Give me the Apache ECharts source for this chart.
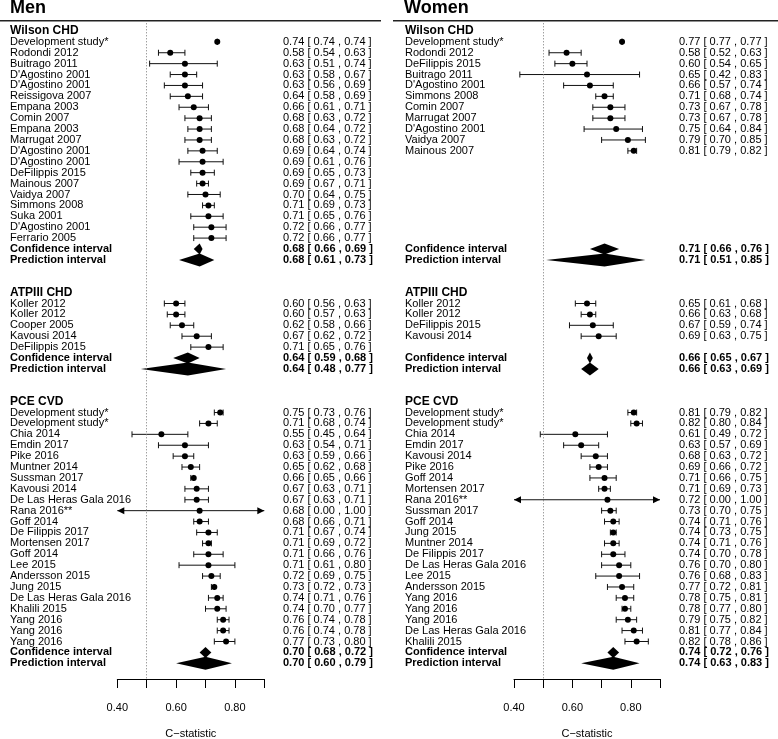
<!DOCTYPE html>
<html><head><meta charset="utf-8">
<script src="https://cdn.jsdelivr.net/npm/echarts@6/dist/echarts.min.js"></script>
<style>html,body{margin:0;padding:0;background:#fff}#c{width:778px;height:739px}</style>
</head><body><div id="c"></div>
<script>
// ---------------- DATA ----------------
const panelTitles = ['Men', 'Women'];
const sectionNames = ['Wilson CHD', 'ATPIII CHD', 'PCE CVD'];
const tickLabels = ['0.40', '0.60', '0.80'];
const axisTitle = 'C\u2212statistic';

// Men – Wilson CHD
const menWilsonLabels = ['Development study*','Rodondi 2012','Buitrago 2011',"D'Agostino 2001","D'Agostino 2001",'Reissigova 2007','Empana 2003','Comin 2007','Empana 2003','Marrugat 2007',"D'Agostino 2001","D'Agostino 2001",'DeFilippis 2015','Mainous 2007','Vaidya 2007','Simmons 2008','Suka 2001',"D'Agostino 2001",'Ferrario 2005'];
const menWilsonEst = [0.74,0.58,0.63,0.63,0.63,0.64,0.66,0.68,0.68,0.68,0.69,0.69,0.69,0.69,0.70,0.71,0.71,0.72,0.72];
const menWilsonLo  = [0.74,0.54,0.51,0.58,0.56,0.58,0.61,0.63,0.64,0.63,0.64,0.61,0.65,0.67,0.64,0.69,0.65,0.66,0.66];
const menWilsonHi  = [0.74,0.63,0.74,0.67,0.69,0.69,0.71,0.72,0.72,0.72,0.74,0.76,0.73,0.71,0.75,0.73,0.76,0.77,0.77];
const menWilsonCI = [0.68,0.66,0.69];
const menWilsonPI = [0.68,0.61,0.73];

// Men – ATPIII CHD
const menAtpLabels = ['Koller 2012','Koller 2012','Cooper 2005','Kavousi 2014','DeFilippis 2015'];
const menAtpEst = [0.60,0.60,0.62,0.67,0.71];
const menAtpLo  = [0.56,0.57,0.58,0.62,0.65];
const menAtpHi  = [0.63,0.63,0.66,0.72,0.76];
const menAtpCI = [0.64,0.59,0.68];
const menAtpPI = [0.64,0.48,0.77];

// Men – PCE CVD
const menPceLabels = ['Development study*','Development study*','Chia 2014','Emdin 2017','Pike 2016','Muntner 2014','Sussman 2017','Kavousi 2014','De Las Heras Gala 2016','Rana 2016**','Goff 2014','De Filippis 2017','Mortensen 2017','Goff 2014','Lee 2015','Andersson 2015','Jung 2015','De Las Heras Gala 2016','Khalili 2015','Yang 2016','Yang 2016','Yang 2016'];
const menPceEst = [0.75,0.71,0.55,0.63,0.63,0.65,0.66,0.67,0.67,0.68,0.68,0.71,0.71,0.71,0.71,0.72,0.73,0.74,0.74,0.76,0.76,0.77];
const menPceLo  = [0.73,0.68,0.45,0.54,0.59,0.62,0.65,0.63,0.63,0.00,0.66,0.67,0.69,0.66,0.61,0.69,0.72,0.71,0.70,0.74,0.74,0.73];
const menPceHi  = [0.76,0.74,0.64,0.71,0.66,0.68,0.66,0.71,0.71,1.00,0.71,0.74,0.72,0.76,0.80,0.75,0.73,0.76,0.77,0.78,0.78,0.80];
const menPceCI = [0.70,0.68,0.72];
const menPcePI = [0.70,0.60,0.79];

// Women – Wilson CHD
const womenWilsonLabels = ['Development study*','Rodondi 2012','DeFilippis 2015','Buitrago 2011',"D'Agostino 2001",'Simmons 2008','Comin 2007','Marrugat 2007',"D'Agostino 2001",'Vaidya 2007','Mainous 2007'];
const womenWilsonEst = [0.77,0.58,0.60,0.65,0.66,0.71,0.73,0.73,0.75,0.79,0.81];
const womenWilsonLo  = [0.77,0.52,0.54,0.42,0.57,0.68,0.67,0.67,0.64,0.70,0.79];
const womenWilsonHi  = [0.77,0.63,0.65,0.83,0.74,0.74,0.78,0.78,0.84,0.85,0.82];
const womenWilsonCI = [0.71,0.66,0.76];
const womenWilsonPI = [0.71,0.51,0.85];

// Women – ATPIII CHD
const womenAtpLabels = ['Koller 2012','Koller 2012','DeFilippis 2015','Kavousi 2014'];
const womenAtpEst = [0.65,0.66,0.67,0.69];
const womenAtpLo  = [0.61,0.63,0.59,0.63];
const womenAtpHi  = [0.68,0.68,0.74,0.75];
const womenAtpCI = [0.66,0.65,0.67];
const womenAtpPI = [0.66,0.63,0.69];

// Women – PCE CVD
const womenPceLabels = ['Development study*','Development study*','Chia 2014','Emdin 2017','Kavousi 2014','Pike 2016','Goff 2014','Mortensen 2017','Rana 2016**','Sussman 2017','Goff 2014','Jung 2015','Muntner 2014','De Filippis 2017','De Las Heras Gala 2016','Lee 2015','Andersson 2015','Yang 2016','Yang 2016','Yang 2016','De Las Heras Gala 2016','Khalili 2015'];
const womenPceEst = [0.81,0.82,0.61,0.63,0.68,0.69,0.71,0.71,0.72,0.73,0.74,0.74,0.74,0.74,0.76,0.76,0.77,0.78,0.78,0.79,0.81,0.82];
const womenPceLo  = [0.79,0.80,0.49,0.57,0.63,0.66,0.66,0.69,0.00,0.70,0.71,0.73,0.71,0.70,0.70,0.68,0.72,0.75,0.77,0.75,0.77,0.78];
const womenPceHi  = [0.82,0.84,0.72,0.69,0.72,0.72,0.75,0.73,1.00,0.75,0.76,0.75,0.76,0.78,0.80,0.83,0.81,0.81,0.80,0.82,0.84,0.86];
const womenPceCI = [0.74,0.72,0.76];
const womenPcePI = [0.74,0.63,0.83];

// ---------------- LAYOUT ----------------
const headerRow = [0, 24, 34];     // row index of each section header
const summaryRow = [20, 30, 57];   // row index of the confidence-interval diamond
const X_MIN = 0.4, X_MAX = 0.9;
const FONT = '"Liberation Sans", Arial, Helvetica, sans-serif';

function buildRows(sections) {
  const rows = [];
  sections.forEach((s, si) => {
    rows.push({ k: headerRow[si], kind: 'header', label: sectionNames[si] });
    s.labels.forEach((lab, i) => rows.push({ k: headerRow[si] + 1 + i, kind: 'study', label: lab, est: s.est[i], lo: s.lo[i], hi: s.hi[i] }));
    rows.push({ k: summaryRow[si], kind: 'ci', label: 'Confidence interval', est: s.ci[0], lo: s.ci[1], hi: s.ci[2] });
    rows.push({ k: summaryRow[si] + 1, kind: 'pi', label: 'Prediction interval', est: s.pi[0], lo: s.pi[1], hi: s.pi[2] });
  });
  return rows;
}

const menRows = buildRows([
  { labels: menWilsonLabels, est: menWilsonEst, lo: menWilsonLo, hi: menWilsonHi, ci: menWilsonCI, pi: menWilsonPI },
  { labels: menAtpLabels, est: menAtpEst, lo: menAtpLo, hi: menAtpHi, ci: menAtpCI, pi: menAtpPI },
  { labels: menPceLabels, est: menPceEst, lo: menPceLo, hi: menPceHi, ci: menPceCI, pi: menPcePI }
]);
const womenRows = buildRows([
  { labels: womenWilsonLabels, est: womenWilsonEst, lo: womenWilsonLo, hi: womenWilsonHi, ci: womenWilsonCI, pi: womenWilsonPI },
  { labels: womenAtpLabels, est: womenAtpEst, lo: womenAtpLo, hi: womenAtpHi, ci: womenAtpCI, pi: womenAtpPI },
  { labels: womenPceLabels, est: womenPceEst, lo: womenPceLo, hi: womenPceHi, ci: womenPceCI, pi: womenPcePI }
]);

function fmt(r) {
  return r.est.toFixed(2) + ' [ ' + r.lo.toFixed(2) + ' , ' + r.hi.toFixed(2) + ' ]';
}

function makeRender(rows, labelX, valueX) {
  return function (params, api) {
    const r = rows[params.dataIndex];
    const y = api.coord([0.5, r.k])[1];
    const children = [];
    const bold = r.kind !== 'study';
    const size = r.kind === 'header' ? 12 : 11;
    children.push({ type: 'text', silent: true, style: {
      x: labelX, y: y, text: r.label, fill: '#000',
      font: (bold ? 'bold ' : '') + size + 'px ' + FONT, align: 'left', verticalAlign: 'middle' } });
    if (r.kind === 'header') return { type: 'group', children };
    children.push({ type: 'text', silent: true, style: {
      x: valueX, y: y, text: fmt(r), fill: '#000',
      font: (bold ? 'bold ' : '') + '11px ' + FONT, align: 'left', verticalAlign: 'middle' } });
    const xe = api.coord([r.est, r.k])[0];
    const xl = api.coord([Math.max(r.lo, X_MIN), r.k])[0];
    const xh = api.coord([Math.min(r.hi, X_MAX), r.k])[0];
    const ln = { stroke: '#111', lineWidth: 1 };
    if (r.kind === 'study') {
      children.push({ type: 'line', shape: { x1: xl, y1: y, x2: xh, y2: y }, style: ln });
      if (r.lo < X_MIN) {
        children.push({ type: 'polygon', shape: { points: [[xl, y], [xl + 7, y - 3.5], [xl + 7, y + 3.5]] }, style: { fill: '#000' } });
      } else {
        children.push({ type: 'line', shape: { x1: xl, y1: y - 3, x2: xl, y2: y + 3 }, style: ln });
      }
      if (r.hi > X_MAX) {
        children.push({ type: 'polygon', shape: { points: [[xh, y], [xh - 7, y - 3.5], [xh - 7, y + 3.5]] }, style: { fill: '#000' } });
      } else {
        children.push({ type: 'line', shape: { x1: xh, y1: y - 3, x2: xh, y2: y + 3 }, style: ln });
      }
      children.push({ type: 'circle', shape: { cx: xe, cy: y, r: 3 }, style: { fill: '#000' } });
    } else {
      const h = r.kind === 'ci' ? 5.5 : 6.5;
      children.push({ type: 'polygon', shape: { points: [[xl, y], [xe, y - h], [xh, y], [xe, y + h]] }, style: { fill: '#000' } });
    }
    return { type: 'group', children };
  };
}

const grids = [
  { left: 117.3, width: 147, top: 23.3, height: 655.7, outerBoundsMode: 'none', containLabel: false },
  { left: 514, width: 146, top: 23.3, height: 655.7, outerBoundsMode: 'none', containLabel: false }
];

function xAxis(gi) {
  return {
    type: 'value', gridIndex: gi, min: X_MIN, max: X_MAX, interval: 0.1, position: 'bottom',
    axisLine: { show: true, onZero: false, lineStyle: { color: '#000', width: 1 } },
    axisTick: { show: true, inside: false, length: 9, lineStyle: { color: '#000', width: 1 } },
    splitLine: { show: false },
    axisLabel: { margin: 23, color: '#000', fontSize: 11, fontFamily: FONT,
      formatter: v => tickLabels.includes(v.toFixed(2)) ? v.toFixed(2) : '' },
    name: axisTitle, nameLocation: 'middle', nameGap: 55,
    nameTextStyle: { color: '#000', fontSize: 11, fontFamily: FONT, verticalAlign: 'middle' }
  };
}
function yAxis(gi) {
  return { type: 'value', gridIndex: gi, min: -0.7, max: 59.44, inverse: true, show: false };
}

function series(gi, rows, labelX, valueX) {
  return {
    type: 'custom', xAxisIndex: gi, yAxisIndex: gi, clip: false,
    data: rows.map(r => [r.est !== undefined ? r.est : 0.5, r.k]),
    renderItem: makeRender(rows, labelX, valueX),
    markLine: { silent: true, symbol: 'none', label: { show: false },
      lineStyle: { color: '#777', type: [1, 2], width: 1 }, data: [{ xAxis: 0.5 }] }
  };
}

const chart = echarts.init(document.getElementById('c'), null, { renderer: 'canvas' });
chart.setOption({
  animation: false,
  backgroundColor: '#fff',
  grid: grids,
  xAxis: [xAxis(0), xAxis(1)],
  yAxis: [yAxis(0), yAxis(1)],
  series: [series(0, menRows, 10, 283), series(1, womenRows, 405, 679)],
  graphic: [
    { type: 'text', left: 10, top: -1, style: { text: panelTitles[0], font: 'bold 18px ' + FONT, fill: '#000' } },
    { type: 'text', left: 404, top: -1, style: { text: panelTitles[1], font: 'bold 18px ' + FONT, fill: '#000' } },
    { type: 'line', shape: { x1: 0, y1: 20.7, x2: 381, y2: 20.7 }, style: { stroke: '#222', lineWidth: 1.5 } },
    { type: 'line', shape: { x1: 393, y1: 20.7, x2: 778, y2: 20.7 }, style: { stroke: '#222', lineWidth: 1.5 } }
  ]
});
</script>
</body></html>
